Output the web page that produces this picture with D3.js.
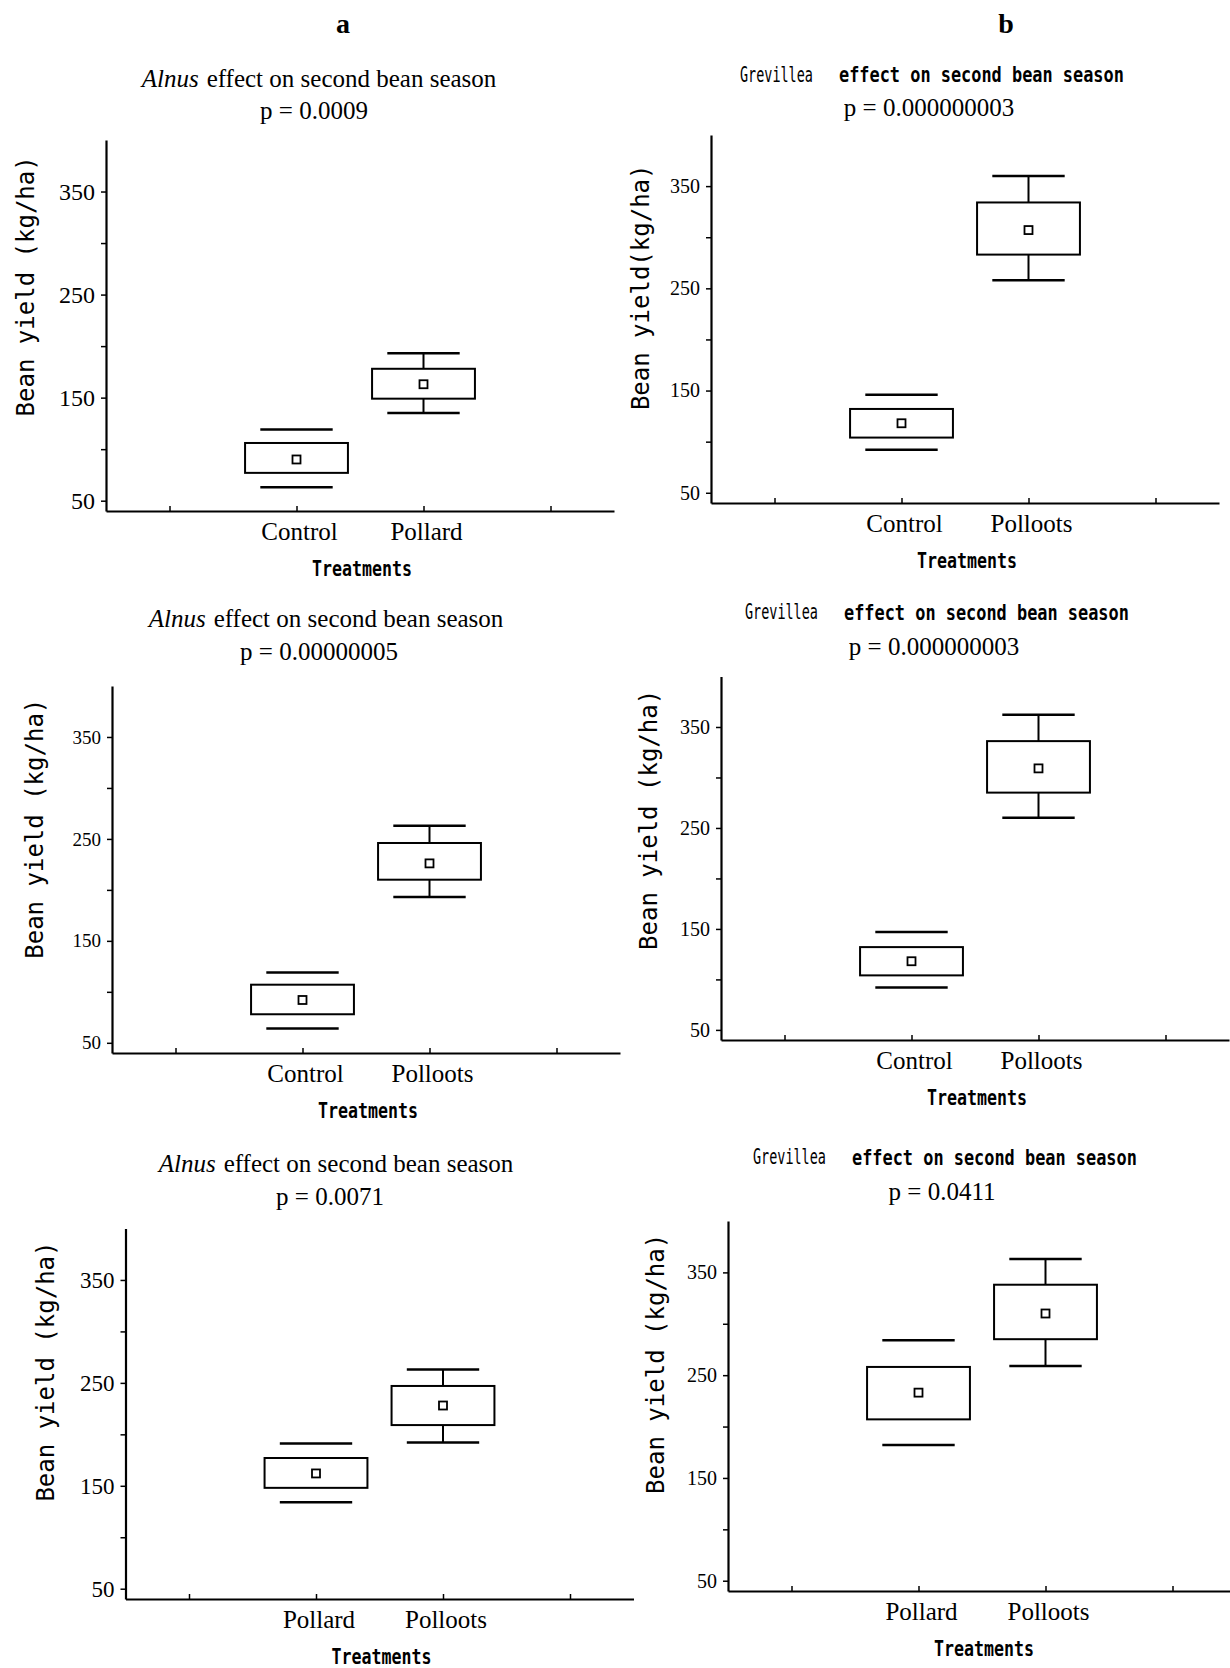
<!DOCTYPE html>
<html>
<head>
<meta charset="utf-8">
<script src="https://cdn.jsdelivr.net/npm/d3@7"></script>
<style>
  body { margin: 0; background: #fff; }
  svg { display: block; }
  .axis path, .axis line { stroke: #000; }
</style>
</head>
<body>
<svg id="fig" width="1230" height="1668"></svg>
<script>
// panel order: a-top, b-top, a-middle, b-middle, a-bottom, b-bottom
var genus = ["Alnus", "Grevillea", "Alnus", "Grevillea", "Alnus", "Grevillea"];
var titleRest = "effect on second bean season";
var pValues = ["0.0009", "0.000000003", "0.00000005", "0.000000003", "0.0071", "0.0411"];
var yTitles = ["Bean yield (kg/ha)", "Bean yield(kg/ha)", "Bean yield (kg/ha)",
               "Bean yield (kg/ha)", "Bean yield (kg/ha)", "Bean yield (kg/ha)"];
var xTitle = "Treatments";
var categories = [
  ["Control", "Pollard"],
  ["Control", "Polloots"],
  ["Control", "Polloots"],
  ["Control", "Polloots"],
  ["Pollard", "Polloots"],
  ["Pollard", "Polloots"]
];
// each treatment: [whisker low, box low, mean, box high, whisker high]
var stats = [
  [[63, 77, 90, 106, 119], [135, 149, 163, 178, 193]],
  [[92, 104, 118, 132, 146], [258, 283, 307, 334, 360]],
  [[64, 78, 92, 107, 119], [193, 210, 226, 246, 263]],
  [[92, 104, 118, 132, 147], [260, 285, 309, 336, 362]],
  [[134, 148, 162, 177, 191], [192, 209, 228, 247, 263]],
  [[182, 207, 233, 258, 284], [259, 285, 310, 338, 363]]
];
// the first treatment in every panel is drawn without whisker stems
var showStem = [false, true];
var yDomain = [40, 400];
var yTicks = [50, 150, 250, 350];
var yMinor = [100, 200, 300];
var xDomain = [0.5, 4.5];
var xTicks = [1, 2, 3, 4];
var catPos = [2, 3];
var columnLetters = ["a", "b"];

// where each panel sits on the page
var layout = [
  { x: 106,   top: 140,    bottom: 511,  tx: 319, ty: 78,   px: 314, py: 110,  ldx: -80, lval: 258, tf: 24 },
  { x: 711,   top: 135,    bottom: 503,  tx: 932, ty: 74.5, px: 929, py: 107.5, ldx: -70, lval: 251, tf: 20 },
  { x: 112,   top: 686,    bottom: 1053, tx: 326, ty: 618,  px: 319, py: 651,  ldx: -77, lval: 260, tf: 19 },
  { x: 721,   top: 676.5,  bottom: 1040, tx: 937, ty: 612,  px: 934, py: 646,  ldx: -72, lval: 258, tf: 20 },
  { x: 125.5, top: 1228.5, bottom: 1599, tx: 336, ty: 1163, px: 330, py: 1196, ldx: -80, lval: 261, tf: 23 },
  { x: 728,   top: 1221,   bottom: 1591, tx: 945, ty: 1157, px: 942, py: 1191, ldx: -72, lval: 261, tf: 20 }
];
var axisLen = 508;
var serif = "'Liberation Serif', 'Times New Roman', serif";
var mono = "'DejaVu Sans Mono', monospace";
var monoAdvance = 0.602;

var svg = d3.select("#fig");

svg.selectAll("text.col")
    .data(columnLetters)
  .enter().append("text")
    .attr("class", "col")
    .attr("x", function(d, i) { return i === 0 ? 343 : 1006; })
    .attr("y", 23)
    .attr("dy", "0.35em")
    .attr("text-anchor", "middle")
    .style("font-family", serif)
    .style("font-weight", "bold")
    .style("font-size", "28px")
    .text(function(d) { return d; });

// condensed mono text: squeeze to a target width with a horizontal scale
function narrowText(parent, str, x, y, size, width, bold) {
  var sx = width / (str.length * size * monoAdvance);
  return parent.append("text")
      .attr("transform", "translate(" + x + "," + y + ") scale(" + sx + ",1)")
      .attr("dy", "0.35em")
      .style("font-family", mono)
      .style("font-weight", bold ? "bold" : "normal")
      .style("font-size", size + "px")
      .text(str);
}

layout.forEach(function(L, k) {
  var g = svg.append("g").attr("class", "panel");

  var y = d3.scaleLinear().domain(yDomain).range([L.bottom, L.top]);
  var x = d3.scaleLinear().domain(xDomain).range([L.x, L.x + axisLen]);

  // title
  if (genus[k] === "Alnus") {
    var t = g.append("text")
        .attr("x", L.tx)
        .attr("y", L.ty)
        .attr("dy", "0.35em")
        .attr("text-anchor", "middle")
        .style("font-family", serif)
        .style("font-size", "25px");
    t.append("tspan").style("font-style", "italic").text(genus[k]);
    t.append("tspan").attr("dx", 8).text(titleRest);
  } else {
    var gw = 73, gap = 26, rw = 285;
    var left = L.tx - (gw + gap + rw) / 2;
    narrowText(g, genus[k], left, L.ty, 21, gw, false);
    narrowText(g, titleRest, left + gw + gap, L.ty, 22, rw, true);
  }

  g.append("text")
      .attr("x", L.px)
      .attr("y", L.py)
      .attr("dy", "0.35em")
      .attr("text-anchor", "middle")
      .style("font-family", serif)
      .style("font-size", "25px")
      .text("p = " + pValues[k]);

  // y axis
  var yAxis = d3.axisLeft(y)
      .tickValues(yTicks.concat(yMinor))
      .tickSizeInner(5)
      .tickSizeOuter(0)
      .tickPadding(6)
      .tickFormat(function(d) { return yTicks.indexOf(d) >= 0 ? d : ""; });

  var ya = g.append("g")
      .attr("class", "axis")
      .attr("transform", "translate(" + L.x + ",0)")
      .call(yAxis);
  ya.select(".domain").attr("stroke-width", 2.2);
  ya.selectAll(".tick line").attr("stroke-width", 1.5);
  ya.selectAll(".tick text")
      .attr("fill", "#000")
      .style("font-family", serif)
      .style("font-size", L.tf + "px");

  // x axis
  var xAxis = d3.axisBottom(x)
      .tickValues(xTicks)
      .tickSizeInner(-5)
      .tickSizeOuter(0)
      .tickFormat("");

  var xa = g.append("g")
      .attr("class", "axis")
      .attr("transform", "translate(0," + L.bottom + ")")
      .call(xAxis);
  xa.select(".domain").attr("stroke-width", 2.2);
  xa.selectAll(".tick line").attr("stroke-width", 1.5);

  g.selectAll("text.cat")
      .data(categories[k])
    .enter().append("text")
      .attr("class", "cat")
      .attr("x", function(d, i) { return x(catPos[i]) + 3; })
      .attr("y", L.bottom + 20)
      .attr("dy", "0.35em")
      .attr("text-anchor", "middle")
      .style("font-family", serif)
      .style("font-size", "25px")
      .text(function(d) { return d; });

  var midX = (x(catPos[0]) + x(catPos[1])) / 2 + 2;
  narrowText(g, xTitle, midX - 50, L.bottom + 58, 21, 100, true);

  g.append("text")
      .attr("transform", "translate(" + (L.x + L.ldx) + "," + y(L.lval) + ") rotate(-90)")
      .attr("dy", "0.35em")
      .attr("text-anchor", "middle")
      .style("font-family", mono)
      .style("font-size", "24px")
      .text(yTitles[k]);

  // boxes
  var box = g.selectAll("g.box")
      .data(stats[k])
    .enter().append("g")
      .attr("class", "box");

  box.each(function(s, i) {
    var b = d3.select(this);
    var c = catPos[i];
    var capL = x(c - 0.285), capR = x(c + 0.285);
    var boxL = x(c - 0.405), boxR = x(c + 0.405);

    if (showStem[i]) {
      b.append("line")
          .attr("x1", x(c)).attr("x2", x(c))
          .attr("y1", y(s[0])).attr("y2", y(s[1]))
          .attr("stroke", "#000").attr("stroke-width", 2);
      b.append("line")
          .attr("x1", x(c)).attr("x2", x(c))
          .attr("y1", y(s[3])).attr("y2", y(s[4]))
          .attr("stroke", "#000").attr("stroke-width", 2);
    }

    [s[0], s[4]].forEach(function(v) {
      b.append("line")
          .attr("x1", capL).attr("x2", capR)
          .attr("y1", y(v)).attr("y2", y(v))
          .attr("stroke", "#000").attr("stroke-width", 2.5);
    });

    b.append("rect")
        .attr("x", boxL)
        .attr("y", y(s[3]))
        .attr("width", boxR - boxL)
        .attr("height", y(s[1]) - y(s[3]))
        .attr("fill", "#fff")
        .attr("stroke", "#000")
        .attr("stroke-width", 2);

    b.append("rect")
        .attr("x", x(c) - 4)
        .attr("y", y(s[2]) - 4)
        .attr("width", 8)
        .attr("height", 8)
        .attr("fill", "#fff")
        .attr("stroke", "#000")
        .attr("stroke-width", 1.8);
  });
});
</script>
</body>
</html>
